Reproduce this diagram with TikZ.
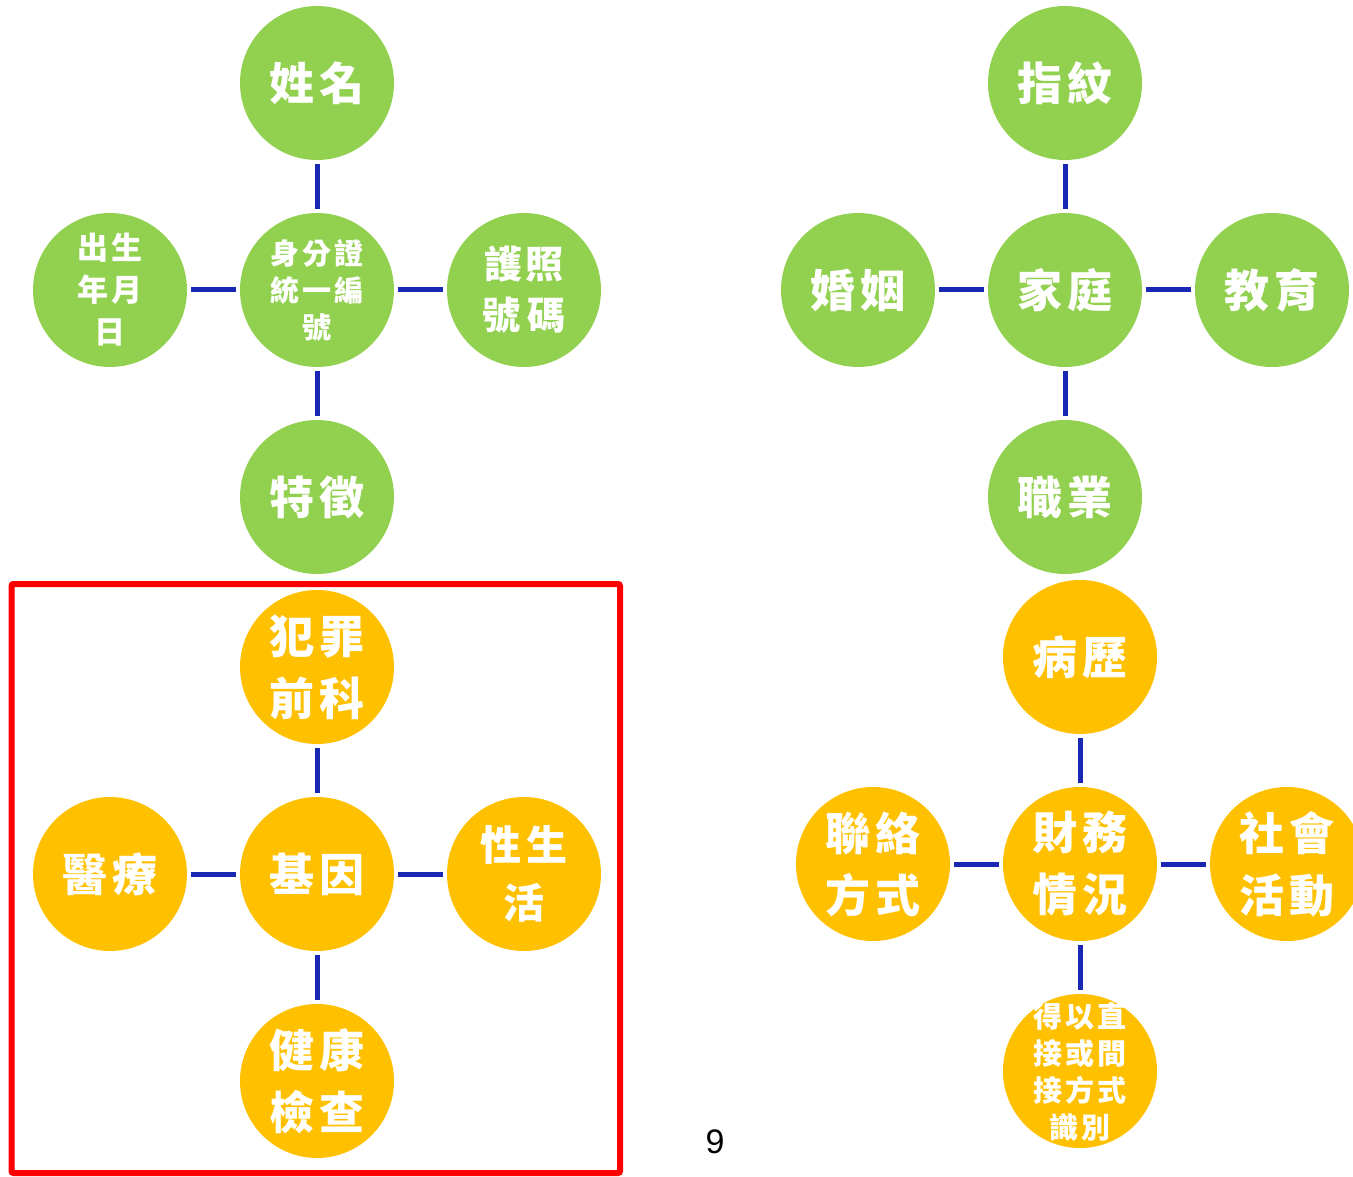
\documentclass[tikz,border=0pt]{standalone}
\usepackage{fontspec}
\newfontfamily\cjk{Noto Sans CJK TC}[LetterSpace=10]
\newfontfamily\latinsans{Liberation Sans}
\definecolor{cgreen}{HTML}{92D050}
\definecolor{corange}{HTML}{FFC000}
\definecolor{cblue}{RGB}{24,40,180}
\definecolor{cred}{RGB}{255,0,0}
\begin{document}
\begin{tikzpicture}[x=1pt,y=-1pt,
  bub/.style={circle,minimum size=154pt,inner sep=0pt,outer sep=0pt,text=white,align=center},
  gb/.style={bub,fill=cgreen},
  ob/.style={bub,fill=corange},
  big/.style={font=\fontsize{45}{62}\selectfont\cjk\bfseries},
  mid/.style={font=\fontsize{38}{51}\selectfont\cjk\bfseries},
  sml/.style={font=\fontsize{31}{42}\selectfont\cjk\bfseries},
  xs/.style={font=\fontsize{29}{37}\selectfont\cjk\bfseries},
  link/.style={draw=cblue,line width=5pt,shorten <=4pt,shorten >=4pt}]
\useasboundingbox (0,0) rectangle (1353,1177);
% top-left group
\node[gb,xs] (id) at (317,290) {身分證\\統一編\\號};
\node[gb,big] (name) at (317,83) {姓名};
\node[gb,sml] (birth) at (110,290) {出生\\年月\\日};
\node[gb,mid] (pass) at (524,290) {護照\\號\,碼};
\node[gb,big] (feat) at (317,497) {特徵};
\draw[link] (id) -- (name);
\draw[link] (id) -- (birth);
\draw[link] (id) -- (pass);
\draw[link] (id) -- (feat);
% top-right group
\node[gb,big] (family) at (1065,290) {家庭};
\node[gb,big] (finger) at (1065,83) {指紋};
\node[gb,big] (marry) at (858,290) {婚姻};
\node[gb,big] (edu) at (1272,290) {教育};
\node[gb,big] (job) at (1065,497) {職業};
\draw[link] (family) -- (finger);
\draw[link] (family) -- (marry);
\draw[link] (family) -- (edu);
\draw[link] (family) -- (job);
% bottom-left group
\node[ob,big] (gene) at (317,874) {基因};
\node[ob,big] (crime) at (317,667) {犯罪\\前科};
\node[ob,big] (med) at (110,874) {醫療};
\node[ob,font=\fontsize{41}{58}\selectfont\cjk\bfseries] (sex) at (524,874) {性生\\活};
\node[ob,big] (health) at (317,1081) {健康\\檢查};
\draw[link] (gene) -- (crime);
\draw[link] (gene) -- (med);
\draw[link] (gene) -- (sex);
\draw[link] (gene) -- (health);
% bottom-right group
\node[ob,big] (fin) at (1080,864) {財務\\情況};
\node[ob,big] (hist) at (1080,657) {病歷};
\node[ob,big] (contact) at (873,864) {聯絡\\方式};
\node[ob,big] (social) at (1287,864) {社會\\活動};
\node[ob,xs,text depth=0pt,inner sep=-20pt] (ident) at (1080,1071) {得以直\\接或間\\接方式\\識別};
\draw[link] (fin) -- (hist);
\draw[link] (fin) -- (contact);
\draw[link] (fin) -- (social);
\draw[link] (fin) -- (ident);
% frame and page number
\draw[cred,line width=6pt,rounded corners=2pt] (11.5,584) rectangle (620,1173);
\node[font=\fontsize{34}{40}\selectfont\latinsans] (pg) at (715,1142) {9};
\end{tikzpicture}
\end{document}
